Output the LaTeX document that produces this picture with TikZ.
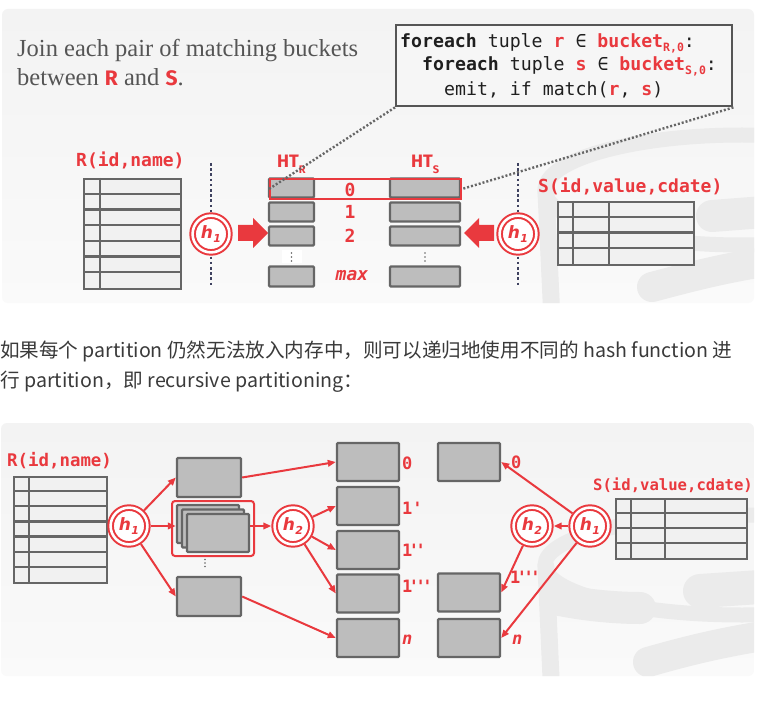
\documentclass[tikz,border=0pt]{standalone}
\usepackage{fontspec}
\setmainfont{Liberation Serif}
\newfontfamily\monof[Ligatures=TeXOff]{DejaVu Sans Mono}
\newfontfamily\hfont{DejaVu Sans}
\newfontfamily\firaf{Fira Sans}
\newfontfamily\cjkf{Noto Sans CJK SC}
\usetikzlibrary{arrows.meta,calc}
\definecolor{dbred}{HTML}{E9393E}
\definecolor{boxgray}{HTML}{BDBDBD}
\definecolor{edgegray}{HTML}{666666}
\definecolor{tblfill}{HTML}{F1F1F1}
\definecolor{navy}{HTML}{3F4260}
\definecolor{txtgray}{HTML}{555555}
\definecolor{wmgray}{HTML}{EBEBEB}
\definecolor{pantop}{HTML}{F3F3F3}
\definecolor{panbot}{HTML}{FAFAFA}
\definecolor{codefill}{HTML}{F6F6F6}
\definecolor{codeedge}{HTML}{555555}
\definecolor{cjktext}{HTML}{3A3A3A}
\newcommand\myh[1]{{\color{dbred}\hfont\bfseries\itshape\fontsize{17}{17}\selectfont h\kern0.3pt\raisebox{-4pt}{\fontsize{11}{11}\selectfont #1}}}
\newcommand\mysub[1]{\raisebox{-3.5pt}{\fontsize{11.5}{11.5}\selectfont #1}}
\tikzset{
  gbox/.style={draw=edgegray, fill=boxgray, line width=2.4pt, rounded corners=1pt, inner sep=0pt},
  tbl/.style={draw=edgegray, fill=tblfill, line width=2.2pt, inner sep=0pt},
  tline/.style={draw=edgegray, line width=2.2pt},
  hcirc/.style={circle, draw=dbred, line width=2pt, double=white, double distance=2.6pt, fill=white, minimum size=36.8pt, inner sep=0pt, outer sep=3.3pt},
  rarr/.style={draw=dbred, line width=2pt, -{Triangle[length=8pt,width=6.5pt]}},
  rlab/.style={text=dbred, font=\monof\bfseries\fontsize{18}{18}\selectfont, inner sep=0pt},
  rlabs/.style={text=dbred, font=\monof\bfseries\fontsize{17}{17}\selectfont, inner sep=0pt},
  codetxt/.style={text=black!88, font=\monof\fontsize{18.2}{18.2}\selectfont, inner sep=0pt, anchor=base west},
  dotline/.style={draw=edgegray, line width=2.4pt, dash pattern=on 2pt off 2pt},
  vdot/.style={draw=navy, line width=2.6pt, dash pattern=on 2.6pt off 2.6pt},
  wm/.style={draw=wmgray, line cap=round},
  panel/.style={rounded corners=6pt, top color=pantop, bottom color=panbot, draw=none}
}
\begin{document}
\begin{tikzpicture}[x=1pt,y=-1pt]
\useasboundingbox (0,0) rectangle (760,711);
\fill[white] (0,0) rectangle (760,711);

%% ================= TOP PANEL =================
\shade[panel] (2,9) rectangle (754,303);
\begin{scope}
  \clip[rounded corners=6pt] (2,9) rectangle (754,303);
  \draw[wm, line width=15pt] (742,190) ellipse [x radius=197, y radius=55];
  \draw[wm, line width=17pt] (546,192) -- (552,320);
  \draw[wm, line width=32pt] (600,222) .. controls (620,226) and (640,228) .. (650,228);
  \draw[wm, line width=32pt] (712,216) -- (790,210);
  \draw[wm, line width=30pt] (652,287) .. controls (690,277) and (730,266) .. (790,258);
\end{scope}

% heading
\node[anchor=base west, inner sep=0pt, text=txtgray, font=\fontsize{24.5}{24.5}\selectfont] (title1) at (17,57) {Join each pair of matching buckets};
\node[anchor=base west, inner sep=0pt, text=txtgray, font=\fontsize{24.5}{24.5}\selectfont] (title2) at (17,86) {between {\firaf\bfseries\color{dbred}\fontsize{21}{21}\selectfont R} and {\firaf\bfseries\color{dbred}\fontsize{21}{21}\selectfont S}.};

% code box
\node[draw=codeedge, fill=codefill, line width=2.4pt, minimum width=336pt, minimum height=81pt, anchor=north west, inner sep=0pt] (code) at (395,24) {};
\node[codetxt] (c1) at (400,48) {{\bfseries foreach} tuple \textcolor{dbred}{\bfseries r} ∈ \textcolor{dbred}{\bfseries bucket\mysub{R,0}}:};
\node[codetxt] (c2) at (422,71) {{\bfseries foreach} tuple \textcolor{dbred}{\bfseries s} ∈ \textcolor{dbred}{\bfseries bucket\mysub{S,0}}:};
\node[codetxt] (c3) at (444,95.5) {emit, if match(\textcolor{dbred}{\bfseries r}, \textcolor{dbred}{\bfseries s})};

% R table
\node[rlab, anchor=base west] (rlabT) at (76,167) {R(id,name)};
\node[tbl, anchor=north west, minimum width=97pt, minimum height=110pt] (rtab) at (83,178) {};
\foreach \i in {1,...,6} \draw[tline] ($(rtab.north west)+(0,\i*110/7)$) -- ++(97,0);
\draw[tline] ($(rtab.north west)+(17,0)$) -- ++(0,110);

% S table
\node[rlab, anchor=base west] (slabT) at (538,193) {S(id,value,cdate)};
\node[tbl, anchor=north west, minimum width=136pt, minimum height=63pt] (stab) at (557,201) {};
\foreach \i in {1,...,3} \draw[tline] ($(stab.north west)+(0,\i*63/4)$) -- ++(136,0);
\draw[tline] ($(stab.north west)+(16,0)$) -- ++(0,63);
\draw[tline] ($(stab.north west)+(52,0)$) -- ++(0,63);

% vertical dotted lines
\coordinate (v1t) at (211,163); \coordinate (v1b) at (211,287);
\coordinate (v2t) at (518,163); \coordinate (v2b) at (518,287);
\draw[vdot] (v1t) -- (v1b);
\draw[vdot] (v2t) -- (v2b);

% hash circles
\node[hcirc] (h1a) at (211,234) {\myh{1}};
\node[hcirc] (h1b) at (518,234) {\myh{1}};

% block arrows
\fill[dbred] (238,225) -- (253,225) -- (253,218) -- (268,233) -- (253,248) -- (253,241) -- (238,241) -- cycle;
\fill[dbred] (494,225) -- (479,225) -- (479,218) -- (464,233) -- (479,248) -- (479,241) -- (494,241) -- cycle;

% HT labels
\node[anchor=base west, inner sep=0pt, text=dbred, font=\firaf\bfseries\fontsize{18}{18}\selectfont] (htr) at (277,168) {HT\raisebox{-6pt}{\fontsize{11}{11}\selectfont R}};
\node[anchor=base west, inner sep=0pt, text=dbred, font=\firaf\bfseries\fontsize{18}{18}\selectfont] (hts) at (411,168) {HT\raisebox{-6pt}{\fontsize{11}{11}\selectfont S}};

% HT_R buckets
\node[gbox, minimum width=45pt, minimum height=19pt] (r0) at (291.5,188) {};
\node[gbox, minimum width=45pt, minimum height=19pt] (r1) at (291.5,212) {};
\node[gbox, minimum width=45pt, minimum height=19pt] (r2) at (291.5,236) {};
\node[gbox, minimum width=45pt, minimum height=20pt] (rm) at (291.5,276.5) {};
\node[fill=white, minimum width=20pt, minimum height=13pt, inner sep=0pt] (rdots) at (291.5,257) {};
\foreach \d in {-4,0,4} \fill[edgegray] ($(rdots.center)+(0,\d)$) circle (0.9pt);

% HT_S buckets
\node[gbox, minimum width=70pt, minimum height=19pt] (s0) at (425,188) {};
\node[gbox, minimum width=70pt, minimum height=19pt] (s1) at (425,212) {};
\node[gbox, minimum width=70pt, minimum height=19pt] (s2) at (425,236) {};
\node[gbox, minimum width=70pt, minimum height=20pt] (sm) at (425,276.5) {};
\coordinate (sdots) at (425,257);
\foreach \d in {-4,0,4} \fill[edgegray] ($(sdots)+(0,\d)$) circle (0.9pt);

% bucket numbers
\node[rlab] (n0) at (350,190) {0};
\node[rlab] (n1) at (350,212) {1};
\node[rlab] (n2) at (350,236) {2};
\node[rlab, font=\monof\bfseries\itshape\fontsize{18}{18}\selectfont] (nm) at (352,276) {max};

% selected bucket pair
\node[draw=dbred, line width=2pt, minimum width=191pt, minimum height=20pt, anchor=north west, inner sep=0pt] (sel) at (269,178) {};

% dotted callout lines
\draw[dotline] (code.south west) -- (sel.west);
\draw[dotline] (code.south east) -- (sel.east);

%% ================= MIDDLE TEXT =================
\node[anchor=base west, inner sep=0pt, text=cjktext, font=\cjkf\fontsize{19.6}{19.6}\selectfont] (t1) at (0,357) {如果每个 partition 仍然无法放入内存中，则可以递归地使用不同的 hash function 进};
\node[anchor=base west, inner sep=0pt, text=cjktext, font=\cjkf\fontsize{19.6}{19.6}\selectfont] (t2) at (0,387) {行 partition，即 recursive partitioning：};

%% ================= BOTTOM PANEL =================
\shade[panel] (1,423) rectangle (754,676);
\begin{scope}
  \clip[rounded corners=6pt] (1,423) rectangle (754,676);
  \draw[wm, line width=15pt] (742,565) ellipse [x radius=197, y radius=50];
  \draw[wm, line width=17pt] (546,567) -- (552,700);
  \draw[wm, line width=32pt] (560,600) .. controls (590,606) and (620,608) .. (640,608);
  \draw[wm, line width=34pt] (700,591) -- (790,585);
  \draw[wm, line width=30pt] (648,662) .. controls (690,650) and (730,640) .. (790,632);
\end{scope}

% R table
\node[rlabs, anchor=base west, font=\monof\bfseries\fontsize{17.4}{17.4}\selectfont] (rlabB) at (7,466) {R(id,name)};
\node[tbl, anchor=north west, minimum width=93pt, minimum height=106pt] (rtabB) at (13,476) {};
\foreach \i in {1,...,6} \draw[tline] ($(rtabB.north west)+(0,\i*106/7)$) -- ++(93,0);
\draw[tline] ($(rtabB.north west)+(16,0)$) -- ++(0,106);

% S table
\node[rlabs, anchor=base west, font=\monof\bfseries\fontsize{15.6}{15.6}\selectfont] (slabB) at (593,490) {S(id,value,cdate)};
\node[tbl, anchor=north west, minimum width=131pt, minimum height=60pt] (stabB) at (615,498) {};
\foreach \i in {1,...,3} \draw[tline] ($(stabB.north west)+(0,\i*15)$) -- ++(131,0);
\draw[tline] ($(stabB.north west)+(16,0)$) -- ++(0,60);
\draw[tline] ($(stabB.north west)+(50,0)$) -- ++(0,60);

% first-level partitions
\node[gbox, minimum width=64pt, minimum height=39pt] (tb) at (209,477.5) {};
\node[draw=dbred, line width=2pt, rounded corners=3pt, minimum width=82pt, minimum height=55pt, inner sep=0pt] (stk) at (213,528.5) {};
\node[gbox, minimum width=62pt, minimum height=38pt] (sb1) at (208,524) {};
\node[gbox, minimum width=62pt, minimum height=38pt] (sb2) at (213,528.5) {};
\node[gbox, minimum width=62pt, minimum height=38pt] (sb3) at (218,533) {};
\coordinate (bdots) at (205,563);
\foreach \d in {-3.5,0,3.5} \fill[edgegray] ($(bdots)+(0,\d)$) circle (0.8pt);
\node[gbox, minimum width=64pt, minimum height=39pt] (bb) at (209,596.5) {};

% second-level partitions (R side)
\node[gbox, minimum width=62pt, minimum height=38pt] (b0) at (368,462) {};
\node[gbox, minimum width=62pt, minimum height=38pt] (b1p) at (368,506) {};
\node[gbox, minimum width=62pt, minimum height=38pt] (b1pp) at (368,550) {};
\node[gbox, minimum width=62pt, minimum height=38pt] (b1ppp) at (368,593.5) {};
\node[gbox, minimum width=62pt, minimum height=38pt] (bn) at (368,638) {};

% S side partitions
\node[gbox, minimum width=62pt, minimum height=38pt] (b0R) at (469,462) {};
\node[gbox, minimum width=62pt, minimum height=38pt] (b1pppR) at (469,592.5) {};
\node[gbox, minimum width=62pt, minimum height=38pt] (bnR) at (469,638) {};

% hash circles
\node[hcirc] (h1L) at (129,526) {\myh{1}};
\node[hcirc] (h2L) at (293,526) {\myh{2}};
\node[hcirc] (h2R) at (532,526) {\myh{2}};
\node[hcirc] (h1R) at (590,526) {\myh{1}};

% arrows R side
\draw[rarr] (h1L) -- (tb.west);
\draw[rarr] (h1L.east) -- (sb1.west |- h1L.center);
\draw[rarr] (h1L) -- (bb.west);
\draw[rarr] (tb.east) -- (b0.west);
\draw[rarr] (bb.east) -- (bn.west);
\draw[rarr] (sb3.east |- h2L.center) -- (h2L.west);
\draw[rarr] (h2L) -- (b1p.west);
\draw[rarr] (h2L) -- (b1pp.west);
\draw[rarr] (h2L) -- (b1ppp.west);

% arrows S side
\draw[rarr] (h1R) -- (b0R.east);
\draw[rarr] (h1R.west) -- (h2R.east);
\draw[rarr] (h2R) -- (b1pppR.east);
\draw[rarr] (h1R) -- (bnR.east);

% partition labels
\node[rlabs, anchor=west] (l0) at (402,463) {0};
\node[rlabs, anchor=west] (l1p) at (402,508) {1'};
\node[rlabs, anchor=west] (l1pp) at (402,550) {1\kern-3.5pt'\kern-3.5pt'};
\node[rlabs, anchor=west] (l1ppp) at (402,586) {1\kern-3.5pt'\kern-3.5pt'\kern-3.5pt'};
\node[rlabs, anchor=west, font=\monof\bfseries\itshape\fontsize{17}{17}\selectfont] (ln) at (402,640) {n};
\node[rlabs, anchor=west] (r0l) at (511,462) {0};
\node[rlabs, anchor=west] (r1pppl) at (510,577) {1\kern-3.5pt'\kern-3.5pt'\kern-3.5pt'};
\node[rlabs, anchor=west, font=\monof\bfseries\itshape\fontsize{17}{17}\selectfont] (rnl) at (512,640) {n};
\end{tikzpicture}
\end{document}
